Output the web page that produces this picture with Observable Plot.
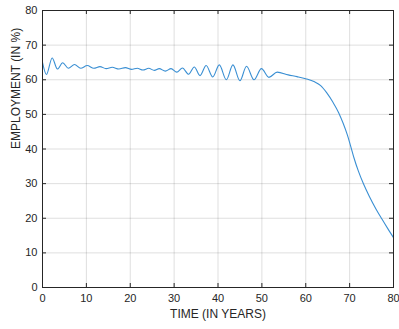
<!DOCTYPE html>
<html>
<head>
<meta charset="utf-8">
<script src="https://cdn.jsdelivr.net/npm/d3@7"></script>
<script src="https://cdn.jsdelivr.net/npm/@observablehq/plot@0.6"></script>
<style>
  html, body { margin: 0; padding: 0; background: #fff; }
  #chart svg { display: block; }
</style>
</head>
<body>
<div id="chart"></div>
<script>
const years = [0, 0.9, 2.2, 3.4, 4.6, 5.9, 7.3, 8.7, 10.2, 11.7, 13.1, 14.5, 15.9, 17.4, 18.9, 20.3, 21.6, 22.9, 24.2, 25.5, 26.6, 28.0, 29.3, 30.6, 31.9, 33.3, 34.6, 35.9, 37.3, 38.8, 40.3, 41.9, 43.4, 45.0, 46.5, 48.2, 49.9, 51.6, 53.5, 56.0, 58.0, 60.0, 62.0, 63.4, 64.8, 66.2, 67.5, 68.5, 69.5, 70.2, 71.0, 72.0, 73.2, 74.5, 76.0, 77.4, 78.7, 80.0];
const employment = [65.0, 61.5, 66.3, 63.1, 64.9, 63.3, 64.4, 63.3, 64.1, 63.3, 63.8, 63.2, 63.6, 63.1, 63.5, 63.0, 63.3, 62.8, 63.3, 62.7, 63.2, 62.5, 63.2, 62.2, 63.4, 61.6, 63.7, 61.2, 64.1, 60.8, 64.3, 60.0, 64.3, 59.7, 63.9, 60.0, 63.2, 60.7, 62.2, 61.4, 60.9, 60.3, 59.4, 58.3, 56.2, 53.5, 50.5, 47.5, 44.0, 41.0, 37.4, 33.6, 29.8, 26.3, 22.7, 19.7, 17.0, 14.4];
const xTicks = [0, 10, 20, 30, 40, 50, 60, 70, 80];
const yTicks = [0, 10, 20, 30, 40, 50, 60, 70, 80];
const xLabel = "TIME (IN YEARS)";
const yLabel = "EMPLOYMENT (IN %)";

const data = years.map((t, i) => ({t, v: employment[i]}));
const W = 399, H = 329;
const mL = 42, mR = 6, mT = 10, mB = 42;
const tick = 4;
const ink = "#262626";

const chart = Plot.plot({
  width: W,
  height: H,
  marginLeft: mL,
  marginRight: mR,
  marginTop: mT,
  marginBottom: mB,
  style: {fontFamily: "'Liberation Sans', Arial, sans-serif", fontSize: "11px", color: ink, background: "#fff"},
  x: {domain: [0, 80], ticks: xTicks},
  y: {domain: [0, 80], ticks: yTicks},
  marks: [
    Plot.gridX(xTicks, {stroke: "#000", strokeOpacity: 0.13}),
    Plot.gridY(yTicks, {stroke: "#000", strokeOpacity: 0.13}),
    Plot.line(data, {x: "t", y: "v", stroke: "#3a8fd3", strokeWidth: 1.1, curve: "monotone-x"}),
    // inward ticks on all four sides
    Plot.ruleX(xTicks, {stroke: ink, insetTop: H - mT - mB - tick}),
    Plot.ruleX(xTicks, {stroke: ink, insetBottom: H - mT - mB - tick}),
    Plot.ruleY(yTicks, {stroke: ink, insetRight: W - mL - mR - tick}),
    Plot.ruleY(yTicks, {stroke: ink, insetLeft: W - mL - mR - tick}),
    Plot.frame({stroke: ink, strokeWidth: 1}),
    Plot.axisX(xTicks, {tickSize: 0, tickPadding: 7, label: null, fill: ink, fontSize: 11}),
    Plot.axisY(yTicks, {tickSize: 0, tickPadding: 5, label: null, fill: ink, fontSize: 11}),
    Plot.text([xLabel], {frameAnchor: "bottom", text: d => d, dy: 30, fontSize: 12, fill: ink}),
    Plot.text([yLabel], {frameAnchor: "left", text: d => d, rotate: -90, dx: -26, fontSize: 12, fill: ink})
  ]
});
document.getElementById("chart").appendChild(chart);
</script>
</body>
</html>
